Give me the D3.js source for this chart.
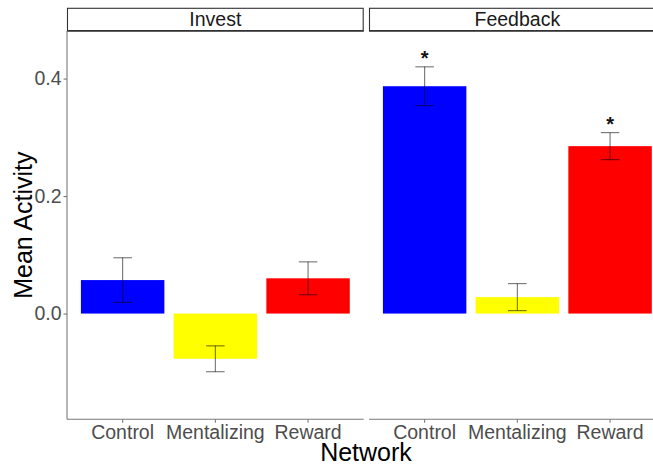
<!DOCTYPE html>
<html>
<head>
<meta charset="utf-8">
<script src="https://cdn.jsdelivr.net/npm/d3@7"></script>
<style>
  html, body { margin: 0; padding: 0; background: #fff; }
  svg { display: block; font-family: "Liberation Sans", Arial, sans-serif; }
</style>
</head>
<body>
<svg id="chart" width="653" height="468"></svg>
<script>
// Mean activity by network, faceted by task phase
const phases = ["Invest", "Feedback"];
const networks = ["Control", "Mentalizing", "Reward"];
const networkColors = ["#0000FF", "#FFFF00", "#FF0000"];
const investMeans = [0.057, -0.077, 0.060];
const investSE = [0.038, 0.022, 0.028];
const feedbackMeans = [0.387, 0.028, 0.285];
const feedbackSE = [0.033, 0.023, 0.023];
const feedbackStars = ["*", "", "*"];
const investStars = ["", "", ""];
const yTicks = [0.0, 0.2, 0.4];

const panelData = [
  { phase: phases[0], means: investMeans, se: investSE, stars: investStars },
  { phase: phases[1], means: feedbackMeans, se: feedbackSE, stars: feedbackStars }
];

const svg = d3.select("#chart");

// layout
const panelTop = 31, panelBottom = 419.3;
const stripTop = 8.3;
const panelWidth = 296.7, panelGap = 5.3;
const firstLeft = 67;

const y = d3.scaleLinear()
  .domain([-0.18, 0.481])
  .range([panelBottom, panelTop]);

const color = d3.scaleOrdinal().domain(networks).range(networkColors);

panelData.forEach((pd, pi) => {
  const left = firstLeft + pi * (panelWidth + panelGap);
  // discrete positions: 0.6 units of padding each side, bars 0.9 units wide
  const x = d3.scalePoint()
    .domain(networks)
    .range([left, left + panelWidth])
    .padding(0.6);
  const unit = x.step();
  const cx = i => x(networks[i]);
  const barW = unit * 0.9;
  const capW = unit * 0.2;

  const g = svg.append("g");

  // bars
  g.selectAll("rect.bar")
    .data(networks)
    .join("rect")
    .attr("class", "bar")
    .attr("x", (d, i) => cx(i) - barW / 2)
    .attr("width", barW)
    .attr("y", (d, i) => y(Math.max(0, pd.means[i])))
    .attr("height", (d, i) => Math.abs(y(pd.means[i]) - y(0)))
    .attr("fill", d => color(d));

  // error bars
  const eb = g.selectAll("g.err")
    .data(networks)
    .join("g")
    .attr("class", "err")
    .attr("stroke", "rgba(0,0,0,0.55)")
    .attr("stroke-width", 1.1)
    .attr("fill", "none");
  eb.append("line")
    .attr("x1", (d, i) => cx(i)).attr("x2", (d, i) => cx(i))
    .attr("y1", (d, i) => y(pd.means[i] + pd.se[i]))
    .attr("y2", (d, i) => y(pd.means[i] - pd.se[i]));
  eb.append("line")
    .attr("x1", (d, i) => cx(i) - capW / 2).attr("x2", (d, i) => cx(i) + capW / 2)
    .attr("y1", (d, i) => y(pd.means[i] + pd.se[i]))
    .attr("y2", (d, i) => y(pd.means[i] + pd.se[i]));
  eb.append("line")
    .attr("x1", (d, i) => cx(i) - capW / 2).attr("x2", (d, i) => cx(i) + capW / 2)
    .attr("y1", (d, i) => y(pd.means[i] - pd.se[i]))
    .attr("y2", (d, i) => y(pd.means[i] - pd.se[i]));

  // significance stars
  g.selectAll("text.star")
    .data(networks)
    .join("text")
    .attr("class", "star")
    .attr("x", (d, i) => cx(i))
    .attr("y", (d, i) => y(pd.means[i] + pd.se[i]) - 2)
    .attr("text-anchor", "middle")
    .attr("font-size", 20)
    .attr("font-weight", "bold")
    .attr("fill", "#111")
    .text((d, i) => pd.stars[i]);

  // bottom axis line and ticks
  g.append("line")
    .attr("x1", left).attr("x2", left + panelWidth)
    .attr("y1", panelBottom).attr("y2", panelBottom)
    .attr("stroke", "#7a7a7a").attr("stroke-width", 1.1);
  networks.forEach((n, i) => {
    g.append("line")
      .attr("x1", cx(i)).attr("x2", cx(i))
      .attr("y1", panelBottom).attr("y2", panelBottom + 3.5)
      .attr("stroke", "#7a7a7a").attr("stroke-width", 1.1);
    g.append("text")
      .attr("x", cx(i))
      .attr("y", 439)
      .attr("text-anchor", "middle")
      .attr("font-size", 19.5)
      .attr("fill", "#4d4d4d")
      .text(n);
  });

  // facet strip
  g.append("rect")
    .attr("x", left + 0.5).attr("y", stripTop)
    .attr("width", panelWidth - 1).attr("height", panelTop - stripTop)
    .attr("fill", "#fff")
    .attr("stroke", "#333").attr("stroke-width", 1.1);
  g.append("line")
    .attr("x1", left).attr("x2", left + panelWidth)
    .attr("y1", panelTop - 0.3).attr("y2", panelTop - 0.3)
    .attr("stroke", "#333").attr("stroke-width", 1.6);
  g.append("text")
    .attr("x", left + panelWidth / 2)
    .attr("y", 26.3)
    .attr("text-anchor", "middle")
    .attr("font-size", 19.5)
    .attr("fill", "#1a1a1a")
    .text(pd.phase);

  // left axis on the first panel only
  if (pi === 0) {
    const yAxis = d3.axisLeft(y)
      .tickValues(yTicks)
      .tickSize(3.5)
      .tickPadding(2)
      .tickFormat(d3.format(".1f"));
    const ag = svg.append("g")
      .attr("transform", `translate(${left},0)`)
      .call(yAxis);
    ag.select(".domain")
      .attr("d", `M0,${panelTop}V${panelBottom}`)
      .attr("stroke", "#7a7a7a").attr("stroke-width", 1.1);
    ag.selectAll(".tick line").attr("stroke", "#7a7a7a").attr("stroke-width", 1.1);
    ag.selectAll(".tick text")
      .attr("font-size", 19.5)
      .attr("fill", "#4d4d4d")
      .attr("font-family", "Liberation Sans, Arial, sans-serif");
  }
});

// axis titles
svg.append("text")
  .attr("x", 366)
  .attr("y", 461)
  .attr("text-anchor", "middle")
  .attr("font-size", 25)
  .attr("fill", "#000")
  .text("Network");

svg.append("text")
  .attr("transform", `translate(32,${(panelTop + panelBottom) / 2}) rotate(-90)`)
  .attr("text-anchor", "middle")
  .attr("font-size", 25)
  .attr("fill", "#000")
  .text("Mean Activity");
</script>
</body>
</html>
